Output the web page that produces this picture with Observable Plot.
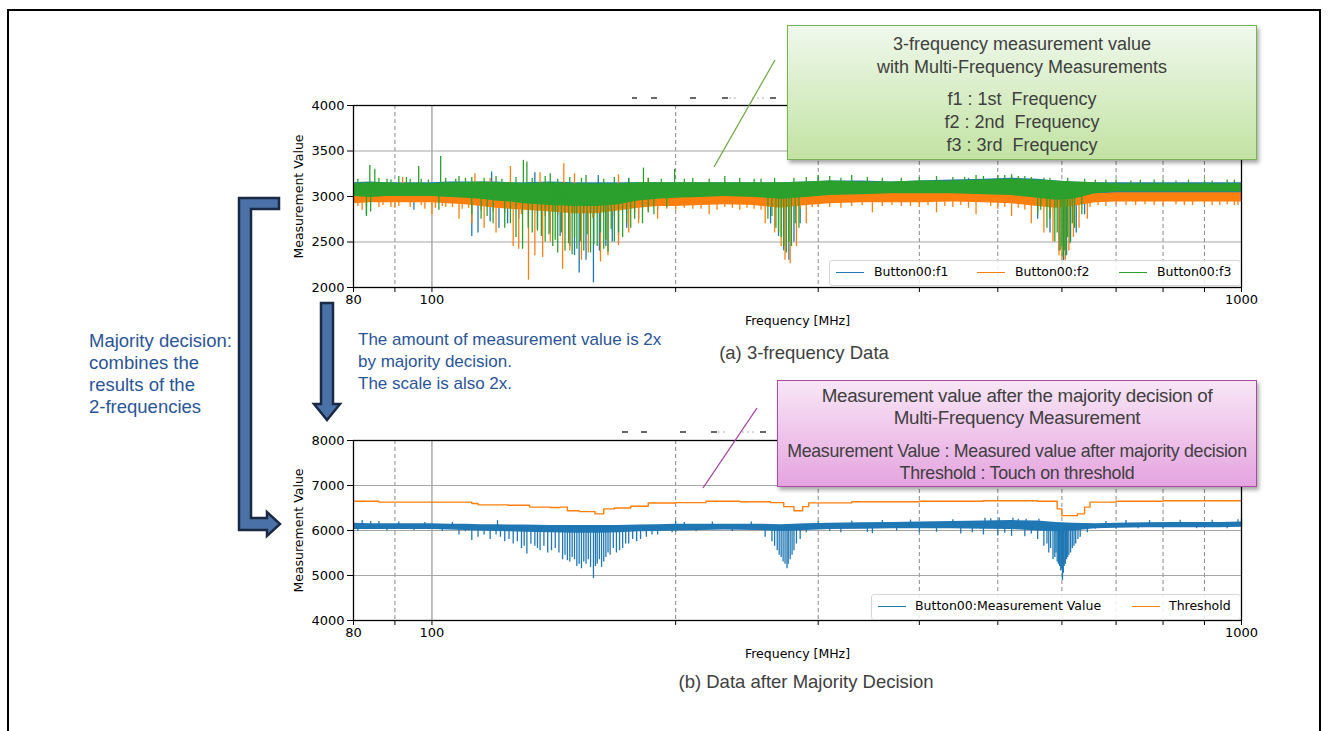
<!DOCTYPE html>
<html><head><meta charset="utf-8">
<script src="https://cdn.jsdelivr.net/npm/d3@7"></script>
<script src="https://cdn.jsdelivr.net/npm/@observablehq/plot@0.6"></script>
<style>
body{margin:0;background:#fff;}
#fig{position:relative;width:1330px;height:731px;overflow:hidden;background:#fff;font-family:"Liberation Sans",Arial,sans-serif;}
#border{position:absolute;left:7px;top:9px;width:1314px;height:760px;border:2px solid #000;box-sizing:border-box;}
.chart{position:absolute;left:280px;}
.chart svg{overflow:visible;}
.legend{position:absolute;background:rgba(255,255,255,0.85);border:1px solid #d6d6d6;border-radius:3px;font:12.5px "DejaVu Sans",sans-serif;color:#000;}
.legend .sw{position:absolute;top:11px;height:0;border-top:1.6px solid;width:28px;}
.legend .lb{position:absolute;top:3px;white-space:nowrap;}
.caption{position:absolute;font-size:18.5px;color:#404040;white-space:nowrap;transform:translateX(-50%);}
.note{position:absolute;line-height:22px;color:#2a5597;white-space:pre;}
.callout{position:absolute;box-sizing:border-box;text-align:center;color:#404040;box-shadow:2px 3px 4px rgba(0,0,0,0.35);}
.callout div{white-space:nowrap;}
#overlay{position:absolute;left:0;top:0;}
#dashes{position:absolute;left:0;top:0;}
</style></head>
<body><div id="fig">
<div id="border"></div>
<svg id="dashes" width="1330" height="731">
  <g stroke="#000" stroke-width="1.2">
    <line x1="632" y1="98" x2="637" y2="98"/><line x1="651" y1="98" x2="657" y2="98"/><line x1="690" y1="98" x2="696" y2="98"/><line x1="722" y1="98" x2="728" y2="98"/><line x1="770" y1="98" x2="776" y2="98"/>
    <line x1="622" y1="432" x2="628" y2="432"/><line x1="641" y1="432" x2="647" y2="432"/><line x1="680" y1="432" x2="686" y2="432"/><line x1="711" y1="432" x2="717" y2="432"/><line x1="760" y1="432" x2="766" y2="432"/>
  </g>
  <g stroke="#b0b0b0" stroke-width="1" stroke-dasharray="2,3">
    <line x1="729" y1="98" x2="738" y2="98"/><line x1="752" y1="98" x2="767" y2="98"/>
    <line x1="718" y1="432" x2="727" y2="432"/><line x1="742" y1="432" x2="757" y2="432"/>
  </g>
</svg>
<div id="chartA" class="chart" style="top:95px"></div>
<div id="chartB" class="chart" style="top:430px"></div>

<div class="legend" style="left:829px;top:260px;width:410px;height:24px">
  <div class="sw" style="left:6px;border-color:#1f77b4"></div><div class="lb" style="left:44px">Button00:f1</div>
  <div class="sw" style="left:147px;border-color:#ff7f0e"></div><div class="lb" style="left:185px">Button00:f2</div>
  <div class="sw" style="left:289px;border-color:#2ca02c"></div><div class="lb" style="left:327px">Button00:f3</div>
</div>
<div class="legend" style="left:871px;top:594px;width:368px;height:24px">
  <div class="sw" style="left:6px;border-color:#1f77b4"></div><div class="lb" style="left:43px">Button00:Measurement Value</div>
  <div class="sw" style="left:260px;border-color:#ff7f0e"></div><div class="lb" style="left:297px">Threshold</div>
</div>

<div class="caption" style="left:804px;top:342px">(a) 3-frequency Data</div>
<div class="caption" style="left:806px;top:671px">(b) Data after Majority Decision</div>

<div class="note" style="left:89px;top:330px;font-size:18.5px">Majority decision:
combines the
results of the
2-frequencies</div>
<div class="note" style="left:358px;top:329px;font-size:17px">The amount of measurement value is 2x
by majority decision.
The scale is also 2x.</div>

<svg id="overlay" width="1330" height="731">
  <path d="M279,198 L239,198 L239,530 L267,530 L267,536 L280,524 L267,512 L267,518 L251,518 L251,209 L279,209 Z" fill="#4a72a8" stroke="#1b2a44" stroke-width="2.5" stroke-linejoin="miter"/>
  <path d="M321,303 L333,303 L333,404 L340,404 L327,420 L314,404 L321,404 Z" fill="#4a72a8" stroke="#1b2a44" stroke-width="2.5"/>
  <line x1="714" y1="167" x2="775" y2="60" stroke="#70a845" stroke-width="1.3"/>
  <line x1="703" y1="488" x2="757" y2="408" stroke="#a23ca0" stroke-width="1.3"/>
</svg>

<div class="callout" style="left:787px;top:25px;width:470px;height:135px;background:linear-gradient(#eff8ec,#c3e3a3);border:1.5px solid #7ab356;font-size:18px;line-height:23px;padding-top:7px">
  <div>3-frequency measurement value</div>
  <div>with Multi-Frequency Measurements</div>
  <div style="margin-top:9px">f1 : 1st&nbsp; Frequency</div>
  <div>f2 : 2nd&nbsp; Frequency</div>
  <div>f3 : 3rd&nbsp; Frequency</div>
</div>
<div class="callout" style="left:777px;top:380px;width:480px;height:107px;background:linear-gradient(#f8e6f6,#e5a4df);border:1.5px solid #a54ca3;line-height:22px;padding-top:4px;letter-spacing:-0.3px">
  <div style="font-size:18.8px">Measurement value after the majority decision of</div>
  <div style="font-size:18.8px">Multi-Frequency Measurement</div>
  <div style="margin-top:11px;font-size:17.8px">Measurement Value : Measured value after majority decision</div>
  <div style="font-size:17.8px">Threshold : Touch on threshold</div>
</div>
</div>

<script>
// ---------- axes ----------
const xTicks = [80, 90, 100, 200, 300, 400, 500, 600, 700, 800, 900, 1000];
const xLabeled = [80, 100, 1000];
const xMinorGrid = [90, 200, 300, 400, 500, 600, 700, 800, 900];
const xMajorGrid = [100];
const topYTicks = [2000, 2500, 3000, 3500, 4000];
const botYTicks = [4000, 5000, 6000, 7000, 8000];

// ---------- (a) 3-frequency data: noise band envelopes ----------
const bandFreq = [80, 84, 88, 92, 96, 100, 105, 110, 115, 120, 125, 130, 140, 150, 160, 170, 180, 190, 200, 215, 230, 250, 270, 290, 310, 340, 370, 400, 440, 480, 520, 560, 590, 620, 660, 700, 760, 820, 880, 940, 1000];
const f1Upper = [3150,3160,3150,3150,3150,3150,3160,3160,3160,3160,3150,3150,3160,3150,3150,3150,3150,3150,3150,3150,3150,3150,3150,3160,3170,3170,3160,3170,3180,3190,3200,3190,3170,3160,3150,3150,3150,3150,3150,3150,3150];
const f1Lower = [2960,2960,2960,2960,2960,2960,2950,2940,2930,2920,2910,2900,2880,2860,2860,2880,2910,2930,2940,2950,2960,2950,2920,2950,2970,2980,2980,2980,2990,2980,2970,2940,2910,2930,2980,3000,3000,3000,3000,3000,3000];
const f2Upper = [3050,3050,3050,3040,3050,3050,3050,3050,3050,3050,3050,3040,3040,3040,3040,3040,3040,3040,3040,3030,3030,3030,3030,3040,3040,3040,3040,3040,3050,3050,3050,3050,3040,3040,3030,3040,3040,3040,3040,3040,3040];
const f2Lower = [2920,2930,2930,2930,2930,2930,2920,2910,2890,2870,2860,2850,2830,2810,2810,2840,2870,2890,2890,2900,2910,2900,2870,2900,2920,2930,2930,2930,2940,2930,2920,2890,2870,2890,2930,2940,2940,2940,2940,2940,2940];
const f3Upper = [3140,3150,3150,3140,3145,3140,3150,3150,3160,3150,3150,3140,3150,3140,3140,3140,3150,3150,3150,3150,3150,3150,3150,3160,3170,3160,3160,3170,3170,3180,3190,3180,3170,3160,3150,3140,3140,3140,3140,3140,3140];
const f3Lower = [3000,2990,3000,3000,3000,3000,2990,2980,2970,2950,2940,2920,2900,2890,2890,2910,2950,2970,2980,2990,3000,2990,2970,2990,3010,3020,3030,3030,3030,3020,3010,2980,2960,2970,3030,3050,3050,3050,3050,3050,3050];

// ---------- (a) individual spikes (frequency, tip value) ----------
const f1Base = 3050, f2Base = 2980, f3Base = 3070;
const f1SpikeFreq = [83, 95, 112, 114, 118, 121, 124, 128, 135, 140, 144, 148, 150, 152, 155, 158.3, 161, 164, 167, 170, 174, 180, 190, 262, 268, 272, 276, 280, 285, 560, 580, 595, 603, 608, 615, 625, 640, 118.5, 134, 160.5, 175, 520, 300, 460];
const f1SpikeTip = [2800, 2850, 2560, 2600, 2720, 2650, 2700, 2750, 2640, 2600, 2560, 2450, 2350, 2160, 2300, 2050, 2400, 2450, 2500, 2560, 2650, 2750, 2850, 2700, 2560, 2400, 2300, 2500, 2700, 2750, 2600, 2400, 2280, 2350, 2500, 2600, 2800, 3270, 3260, 3230, 3200, 3220, 3210, 3200];
const f2SpikeFreq = [82, 100, 108, 112, 116, 120, 126, 128, 131.6, 134, 137, 140, 145, 148, 153, 156, 161.5, 165, 170, 175, 180, 190, 200, 220, 240, 258, 265, 270, 273, 277, 282, 290, 350, 420, 470, 520, 550, 570, 585, 595, 600, 606, 612, 620, 630, 645,
  86, 90, 98, 104, 210, 225, 235, 250, 300, 320, 380, 400, 440, 460, 500, 540, 680, 720, 780, 850, 920, 980,
  92, 113, 118, 125, 136, 145.5, 150, 170, 185];
const f2SpikeTip = [2850, 2800, 2750, 2700, 2650, 2600, 2450, 2420, 2080, 2350, 2330, 2500, 2200, 2400, 2300, 2380, 2280, 2350, 2460, 2600, 2700, 2750, 2850, 2800, 2850, 2700, 2600, 2450, 2300, 2260, 2450, 2700, 2820, 2820, 2800, 2780, 2700, 2600, 2500, 2350, 2270, 2300, 2400, 2550, 2650, 2750,
  2880, 2870, 2860, 2880, 2860, 2850, 2870, 2860, 2880, 2870, 2890, 2880, 2880, 2870, 2860, 2850, 2890, 2900, 2900, 2900, 2900, 2900,
  3210, 3250, 3200, 3330, 3260, 3360, 3250, 3240, 3200];
const f2EdgeFreq = [81, 83, 87, 89, 91, 94, 97, 101, 103, 106, 109, 111, 115, 119, 123, 129, 138, 143, 158, 168, 178, 185, 195, 205, 215, 230, 245, 255, 285, 295, 310, 330, 340, 360, 370, 390, 410, 430, 450, 490, 510, 530, 560, 580, 650, 665, 700, 740, 760, 800, 830, 870, 900, 940, 960, 990];
const f2EdgeTip = [2890, 2880, 2900, 2880, 2890, 2880, 2900, 2870, 2890, 2880, 2860, 2870, 2840, 2830, 2820, 2800, 2780, 2790, 2760, 2780, 2820, 2840, 2860, 2870, 2860, 2880, 2870, 2850, 2860, 2880, 2880, 2890, 2900, 2890, 2900, 2890, 2900, 2890, 2900, 2890, 2880, 2870, 2840, 2820, 2880, 2900, 2910, 2900, 2910, 2900, 2910, 2900, 2910, 2900, 2910, 2900];
const f3SpikeFreq = [83, 84, 102, 115, 119, 123, 127, 129.4, 133, 138, 141, 143, 146, 149, 151, 154, 157, 160, 163, 165, 168, 172, 176, 182, 188, 195, 260, 266, 270, 274, 278, 284, 560, 575, 588, 597, 602, 607, 614, 622, 635,
  83.8, 85, 91, 96.3, 102.5, 108, 120, 129.7, 131, 140, 155, 182.5, 199.4, 230, 300, 330, 480, 500, 520, 540, 570,
  88, 94, 110, 205, 250, 280, 360, 400, 440, 680, 750, 800, 900, 960,
  112, 117, 125, 131.5, 135, 136.5, 139.5, 142, 144.5, 147.5, 150, 152.5, 155.5, 158.5, 161.5, 164, 166.5, 170, 174, 178, 185, 263, 268, 272, 276, 281, 565, 580, 592, 600, 604, 610, 618];
const f3SpikeTip = [2780, 2830, 2850, 2750, 2700, 2650, 2550, 2420, 2600, 2500, 2450, 2380, 2400, 2360, 2420, 2400, 2380, 2450, 2420, 2390, 2500, 2550, 2650, 2700, 2800, 2880, 2750, 2650, 2550, 2380, 2450, 2650, 2800, 2650, 2500, 2400, 2330, 2350, 2480, 2650, 2800,
  3341, 3300, 3220, 3330, 3440, 3220, 3220, 3397, 3380, 3250, 3230, 3312, 3297, 3220, 3230, 3230, 3220, 3230, 3240, 3220, 3200,
  3190, 3190, 3200, 3190, 3190, 3200, 3200, 3210, 3210, 3180, 3180, 3180, 3180, 3180,
  2800, 2780, 2700, 2650, 2620, 2560, 2580, 2520, 2600, 2480, 2550, 2500, 2580, 2470, 2600, 2520, 2640, 2600, 2700, 2750, 2820, 2780, 2600, 2450, 2500, 2700, 2850, 2750, 2600, 2450, 2400, 2550, 2700];
const f3EdgeFreq = [81, 86, 89, 93, 97, 99, 104, 107, 112, 116, 122, 127, 133, 138, 143, 148, 153, 163, 168, 175, 185, 192, 210, 220, 240, 255, 265, 290, 310, 320, 345, 380, 420, 455, 470, 510, 530, 550, 580, 610, 640, 660, 700, 730, 780, 830, 860, 920, 980];
const f3EdgeTip = [3190, 3200, 3180, 3210, 3190, 3180, 3200, 3190, 3210, 3200, 3190, 3210, 3200, 3220, 3190, 3210, 3200, 3190, 3210, 3190, 3200, 3190, 3200, 3190, 3200, 3190, 3200, 3210, 3220, 3200, 3210, 3200, 3220, 3210, 3230, 3230, 3220, 3210, 3200, 3200, 3190, 3180, 3180, 3170, 3180, 3170, 3180, 3170, 3180];

// ---------- (b) measurement value after majority decision ----------
const mvUpper = [6160,6150,6150,6150,6150,6150,6140,6140,6130,6130,6120,6120,6110,6110,6110,6110,6120,6130,6140,6140,6140,6140,6130,6150,6160,6170,6180,6190,6200,6210,6220,6210,6180,6160,6150,6160,6170,6180,6180,6180,6190];
const mvLower = [6020,6020,6020,6020,6020,6020,6010,6000,5990,5980,5970,5960,5950,5940,5940,5950,5970,5980,5990,6000,6010,6000,5980,6000,6020,6030,6040,6040,6040,6030,6020,5990,5970,5990,6040,6050,6060,6060,6060,6060,6070];
const mvBase = 6080;
const mvSpikeFreq = [108, 112, 114, 118, 120, 123, 126, 129, 131, 134, 136, 139, 142, 145, 147, 149, 151, 153, 155, 157, 158.3, 160, 162, 164, 166, 169, 172, 175, 179, 184, 190, 198,
  258, 263, 267, 270, 273, 274.5, 277, 280, 285,
  320, 350, 400, 450, 480, 500, 520, 540,
  560, 570, 578, 585, 590, 594, 598, 601, 604, 608, 612, 618, 624, 632, 645,
  82, 86, 120.5, 200, 482, 502, 522, 542, 562, 1000,
  116, 121.5, 124.5, 127.5, 130, 132.5, 135, 137.5, 140.5, 143.5, 146, 148, 150, 152, 154, 156, 159.2, 161, 163, 165, 167.5, 170.5, 173.5, 177, 181, 187, 265, 268.5, 271.5, 275.5, 278.5, 282, 575, 581, 588, 592, 596, 599.5, 602.5, 606, 610, 615, 621, 628];
const mvSpikeTip = [5900, 5780, 5850, 5800, 5900, 5750, 5700, 5600, 5480, 5650, 5550, 5500, 5600, 5350, 5330, 5400, 5200, 5150, 5250, 5180, 4930, 5250, 5180, 5400, 5450, 5500, 5600, 5700, 5750, 5850, 5900, 5950,
  5850, 5750, 5550, 5400, 5250, 5150, 5350, 5550, 5800,
  5950, 5930, 5950, 5920, 5900, 5880, 5870, 5860,
  5800, 5650, 5500, 5350, 5500, 5250, 5100, 4890, 5200, 5350, 5450, 5600, 5700, 5850, 5950,
  6220, 6200, 6220, 6200, 6270, 6280, 6270, 6250, 6250, 6250,
  5900, 5850, 5800, 5750, 5650, 5700, 5600, 5650, 5550, 5500, 5450, 5300, 5350, 5250, 5300, 5350, 5200, 5350, 5300, 5500, 5600, 5550, 5700, 5800, 5800, 5900, 5650, 5450, 5300, 5250, 5450, 5700, 5700, 5600, 5400, 5300, 5200, 5150, 5050, 5250, 5400, 5500, 5650, 5800];
const mvEdgeFreq = [81, 84, 88, 91, 95, 98, 103, 106, 110, 200, 205, 212, 222, 235, 248, 290, 300, 310, 330, 345, 360, 375, 390, 420, 440, 465, 490, 510, 530, 550, 660, 680, 700, 720, 745, 770, 800, 840, 880, 920, 960, 990];
const mvEdgeTip = [5980, 6200, 5990, 6190, 6000, 6180, 5980, 6180, 5970, 5960, 6180, 5970, 6190, 5980, 6190, 5950, 6200, 5980, 6210, 5960, 6220, 5990, 6230, 5960, 6240, 5950, 6260, 5940, 6250, 5920, 6030, 6200, 6030, 6220, 6040, 6220, 6030, 6230, 6040, 6230, 6040, 6240];
const thrFreq = [80, 86, 100, 112, 114, 124, 132, 140, 144, 147, 152, 159, 163, 168, 176, 185, 200, 218, 240, 262, 272, 280, 287, 292, 330, 400, 480, 560, 592, 600, 627, 640, 650, 700, 800, 1000];
const thrValue = [6650, 6630, 6630, 6600, 6570, 6560, 6520, 6510, 6520, 6440, 6420, 6370, 6480, 6500, 6540, 6610, 6620, 6650, 6640, 6620, 6530, 6440, 6530, 6615, 6640, 6650, 6660, 6650, 6480, 6330, 6370, 6520, 6630, 6650, 6660, 6660];

const C1 = "#1f77b4", C2 = "#ff7f0e", C3 = "#2ca02c";

const band = (lo, hi) => bandFreq.map((f, i) => ({f, lo: lo[i], hi: hi[i]}));
const spikes = (fs, tips, base) => fs.map((f, i) => ({f, base, tip: tips[i]}));

function seriesMarks(lo, hi, fs, tips, efs, etips, base, color) {
  const marks = [
    Plot.areaY(band(lo, hi), {x: "f", y1: "lo", y2: "hi", fill: color}),
    Plot.ruleX(spikes(fs, tips, base), {x: "f", y1: "base", y2: "tip", stroke: color, strokeWidth: 1.3})
  ];
  if (efs) marks.push(Plot.ruleX(spikes(efs, etips, base), {x: "f", y1: "base", y2: "tip", stroke: color, strokeWidth: 1.3}));
  return marks;
}

function frameMarks(yTicks) {
  return {
    grid: [
      Plot.ruleX(xMinorGrid, {stroke: "#7a7a7a", strokeDasharray: "4,3", strokeWidth: 0.9}),
      Plot.ruleX(xMajorGrid, {stroke: "#8a8a8a", strokeWidth: 1.1}),
      Plot.ruleY(yTicks.slice(1, -1), {stroke: "#a6a6a6", strokeWidth: 1.2})
    ],
    axes: [
      Plot.frame({stroke: "#000", strokeWidth: 1.3}),
      Plot.axisX({ticks: xTicks, tickFormat: d => xLabeled.includes(d) ? String(d) : "", tickSize: 5, tickPadding: 2, fontSize: 13, label: null}),
      Plot.axisY({ticks: yTicks, tickFormat: d => String(d), tickSize: 6, tickPadding: 3, fontSize: 13, label: null}),
      Plot.text(["Frequency [MHz]"], {frameAnchor: "bottom", dy: 33, fontSize: 12.5, lineAnchor: "middle"}),
      Plot.text(["Measurement Value"], {frameAnchor: "left", dx: -55, rotate: -90, fontSize: 12.5, lineAnchor: "middle", textAnchor: "middle"})
    ]
  };
}

const common = {
  width: 980, height: 240, marginLeft: 73, marginRight: 19, marginTop: 10,
  style: {fontFamily: "'DejaVu Sans', sans-serif", background: "transparent", overflow: "visible"},
  x: {type: "log", domain: [80, 1000], axis: null}
};

const fa = frameMarks(topYTicks);
const chartA = Plot.plot({
  ...common, marginBottom: 48,
  y: {domain: [2000, 4000], axis: null},
  marks: [
    ...fa.grid,
    ...seriesMarks(f1Lower, f1Upper, f1SpikeFreq, f1SpikeTip, null, null, f1Base, C1),
    ...seriesMarks(f2Lower, f2Upper, f2SpikeFreq, f2SpikeTip, f2EdgeFreq, f2EdgeTip, f2Base, C2),
    ...seriesMarks(f3Lower, f3Upper, f3SpikeFreq, f3SpikeTip, f3EdgeFreq, f3EdgeTip, f3Base, C3),
    ...fa.axes
  ]
});
document.getElementById("chartA").appendChild(chartA);

const fb = frameMarks(botYTicks);
const chartB = Plot.plot({
  ...common, marginBottom: 50,
  y: {domain: [4000, 8000], axis: null},
  marks: [
    ...fb.grid,
    ...seriesMarks(mvLower, mvUpper, mvSpikeFreq, mvSpikeTip, mvEdgeFreq, mvEdgeTip, mvBase, C1),
    Plot.line(thrFreq.map((f, i) => ({f, v: thrValue[i]})), {x: "f", y: "v", stroke: C2, strokeWidth: 1.4, curve: "step-after"}),
    ...fb.axes
  ]
});
document.getElementById("chartB").appendChild(chartB);
</script>
</body></html>
